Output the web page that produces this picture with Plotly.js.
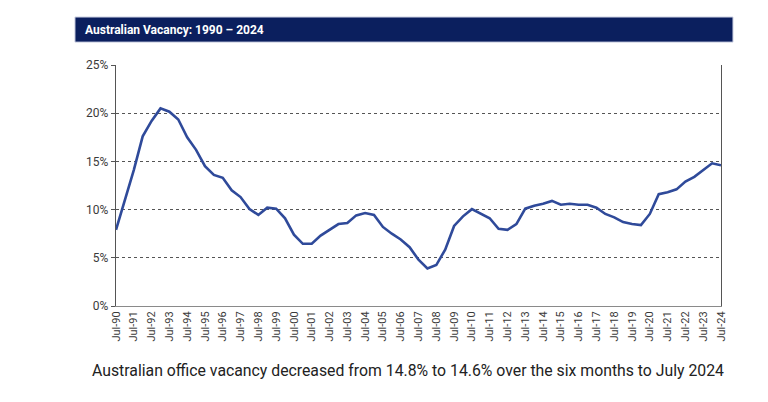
<!DOCTYPE html>
<html>
<head>
<meta charset="utf-8">
<script src="https://cdn.plot.ly/plotly-3.0.1.min.js"></script>
<style>
html,body{margin:0;padding:0;background:#fff;}
#chart{width:768px;height:402px;}
</style>
</head>
<body>
<div id="chart"></div>
<script>
const periods = [
"Jul-90","Jan-91","Jul-91","Jan-92","Jul-92","Jan-93","Jul-93","Jan-94","Jul-94","Jan-95",
"Jul-95","Jan-96","Jul-96","Jan-97","Jul-97","Jan-98","Jul-98","Jan-99","Jul-99","Jan-00",
"Jul-00","Jan-01","Jul-01","Jan-02","Jul-02","Jan-03","Jul-03","Jan-04","Jul-04","Jan-05",
"Jul-05","Jan-06","Jul-06","Jan-07","Jul-07","Jan-08","Jul-08","Jan-09","Jul-09","Jan-10",
"Jul-10","Jan-11","Jul-11","Jan-12","Jul-12","Jan-13","Jul-13","Jan-14","Jul-14","Jan-15",
"Jul-15","Jan-16","Jul-16","Jan-17","Jul-17","Jan-18","Jul-18","Jan-19","Jul-19","Jan-20",
"Jul-20","Jan-21","Jul-21","Jan-22","Jul-22","Jan-23","Jul-23","Jan-24","Jul-24"
];
const vacancy = [
7.9,11.0,14.1,17.6,19.2,20.5,20.15,19.35,17.5,16.2,
14.5,13.6,13.3,12.0,11.3,10.05,9.45,10.2,10.1,9.1,
7.4,6.45,6.45,7.3,7.9,8.5,8.6,9.4,9.65,9.45,
8.2,7.5,6.9,6.1,4.8,3.9,4.25,5.85,8.3,9.3,
10.05,9.6,9.1,8.0,7.9,8.5,10.1,10.4,10.6,10.9,
10.5,10.6,10.5,10.5,10.2,9.55,9.2,8.7,8.5,8.4,
9.55,11.6,11.8,12.1,12.9,13.4,14.1,14.8,14.6
];
const xTickLabels = ["Jul-90","Jul-91","Jul-92","Jul-93","Jul-94","Jul-95","Jul-96","Jul-97","Jul-98","Jul-99",
"Jul-00","Jul-01","Jul-02","Jul-03","Jul-04","Jul-05","Jul-06","Jul-07","Jul-08","Jul-09","Jul-10",
"Jul-11","Jul-12","Jul-13","Jul-14","Jul-15","Jul-16","Jul-17","Jul-18","Jul-19","Jul-20",
"Jul-21","Jul-22","Jul-23","Jul-24"];
const yTickValues = [0,5,10,15,20,25];
const chartTitle = "Australian Vacancy: 1990 – 2024";
const caption = "Australian office vacancy decreased from 14.8% to 14.6% over the six months to July 2024";

const trace = {
  x: periods, y: vacancy, type: "scatter", mode: "lines",
  line: {color: "#2f4a9a", width: 2.6},
  hoverinfo: "skip"
};

const layout = {
  width: 768, height: 402,
  margin: {l: 116, r: 47, t: 65, b: 96},
  paper_bgcolor: "#ffffff", plot_bgcolor: "#ffffff",
  showlegend: false,
  font: {family: "Roboto, 'DejaVu Sans', sans-serif", color: "#3a3a3a"},
  xaxis: {
    type: "category",
    range: [0, periods.length - 1],
    tickmode: "array", tickvals: xTickLabels, ticktext: xTickLabels,
    tickangle: -90,
    tickfont: {size: 11, color: "#3a3a3a"},
    showgrid: false, zeroline: false,
    showline: true, linecolor: "#8a8a8a", linewidth: 1,
    ticks: "", fixedrange: true
  },
  yaxis: {
    range: [0, 25],
    tickmode: "array", tickvals: yTickValues,
    ticktext: yTickValues.map(v => v + "%"),
    tickfont: {size: 12, color: "#3a3a3a"},
    showgrid: true, gridcolor: "#555555", gridwidth: 1, griddash: "3px,3px",
    zeroline: false,
    showline: true, linecolor: "#555555", linewidth: 1.2, mirror: true,
    ticks: "outside", ticklen: 4, tickcolor: "#555555",
    fixedrange: true
  },
  shapes: [
    {type: "rect", xref: "paper", yref: "paper",
     x0: -0.0678, x1: 1.0198, y0: 1.095, y1: 1.199,
     fillcolor: "#0b1f5e", line: {color: "#c8cde0", width: 1}, layer: "above"}
  ],
  annotations: [
    {text: chartTitle, xref: "paper", yref: "paper", x: -0.054, y: 1.147,
     xanchor: "left", yanchor: "middle", showarrow: false,
     font: {size: 12, color: "#ffffff", family: "Roboto, sans-serif", weight: 700}},
    {text: caption, xref: "paper", yref: "paper", x: 0.483, y: -0.266,
     xanchor: "center", yanchor: "middle", showarrow: false,
     font: {size: 15.8, color: "#222222", family: "Roboto, sans-serif"}}
  ]
};

Plotly.newPlot("chart", [trace], layout, {displayModeBar: false, staticPlot: true});
</script>
</body>
</html>
